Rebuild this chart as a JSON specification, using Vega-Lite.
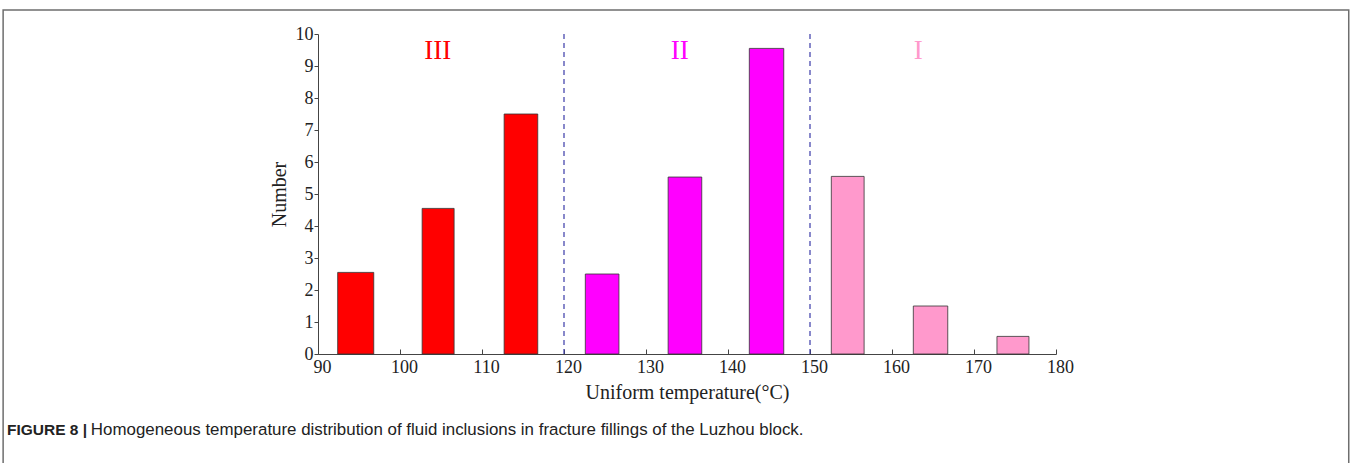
{
  "$schema": "https://vega.github.io/schema/vega-lite/v6.json",
  "width": 738,
  "height": 320,
  "autosize": {"type": "none"},
  "padding": {"left": 318, "top": 34, "right": 295, "bottom": 109},
  "background": "white",
  "config": {
    "view": {"stroke": null},
    "axis": {
      "grid": false,
      "domainColor": "#444444",
      "tickColor": "#444444",
      "labelOverlap": false,
      "labelFont": "Liberation Serif",
      "labelFontSize": 18,
      "labelColor": "#222222",
      "labelFlush": false,
      "titleFont": "Liberation Serif",
      "titleFontSize": 20,
      "titleFontWeight": "normal",
      "titleColor": "#222222"
    },
    "axisX": {"tickSize": -5, "labelPadding": 9, "labelOffset": 4, "titlePadding": 6},
    "axisY": {"tickSize": 4, "labelPadding": 1, "titlePadding": 6}
  },
  "datasets": {
    "bars": [
      {"start": 92.4, "end": 96.8, "number": 2.55, "zone": "III"},
      {"start": 102.7, "end": 106.6, "number": 4.55, "zone": "III"},
      {"start": 112.7, "end": 116.8, "number": 7.5, "zone": "III"},
      {"start": 122.6, "end": 126.7, "number": 2.5, "zone": "II"},
      {"start": 132.7, "end": 136.8, "number": 5.53, "zone": "II"},
      {"start": 142.6, "end": 146.8, "number": 9.55, "zone": "II"},
      {"start": 152.6, "end": 156.6, "number": 5.55, "zone": "I"},
      {"start": 162.6, "end": 166.8, "number": 1.5, "zone": "I"},
      {"start": 172.8, "end": 176.7, "number": 0.55, "zone": "I"}
    ],
    "dividers": [{"t": 120}, {"t": 150}],
    "zones": [
      {"t": 104.6, "n": 9.47, "zone": "III"},
      {"t": 134.1, "n": 9.47, "zone": "II"},
      {"t": 163.2, "n": 9.47, "zone": "I"}
    ],
    "frame": [{"x1": 51.6, "x2": 215.7, "y1": -4, "y2": 10.75}],
    "captionBold": [{"x": 52.07, "y": -2.375, "label": "FIGURE 8 |"}],
    "captionText": [{"x": 62.3, "y": -2.375, "label": "Homogeneous temperature distribution of fluid inclusions in fracture fillings of the Luzhou block."}]
  },
  "layer": [
    {
      "data": {"name": "bars"},
      "mark": {"type": "rect", "stroke": "#333333", "strokeWidth": 0.8},
      "encoding": {
        "x": {
          "field": "start", "type": "quantitative",
          "scale": {"domain": [90, 180], "nice": false, "zero": false},
          "axis": {
            "title": "Uniform temperature(°C)",
            "values": [90, 100, 110, 120, 130, 140, 150, 160, 170, 180],
            "tickCount": 20,
            "format": "d",
            "labelOverlap": false
          }
        },
        "x2": {"field": "end"},
        "y": {
          "field": "number", "type": "quantitative",
          "scale": {"domain": [0, 10], "nice": false},
          "axis": {
            "title": "Number",
            "values": [0, 1, 2, 3, 4, 5, 6, 7, 8, 9, 10],
            "tickCount": 20,
            "format": "d",
            "labelOverlap": false
          }
        },
        "y2": {"datum": 0},
        "fill": {
          "field": "zone", "type": "nominal",
          "scale": {"domain": ["III", "II", "I"], "range": ["#ff0000", "#ff00ff", "#ff99cc"]},
          "legend": null
        }
      }
    },
    {
      "data": {"name": "frame"},
      "mark": {"type": "rect", "fill": null, "stroke": "#6e6e6e", "strokeWidth": 1.5},
      "encoding": {
        "x": {"field": "x1", "type": "quantitative"},
        "x2": {"field": "x2"},
        "y": {"field": "y1", "type": "quantitative"},
        "y2": {"field": "y2"}
      }
    },
    {
      "data": {"name": "dividers"},
      "mark": {"type": "rule", "color": "#3a3aa8", "strokeWidth": 1.2, "strokeDash": [5, 4]},
      "encoding": {
        "x": {"field": "t", "type": "quantitative"},
        "y": {"datum": 0},
        "y2": {"datum": 10}
      }
    },
    {
      "data": {"name": "zones"},
      "mark": {"type": "text", "font": "Liberation Serif", "fontSize": 27, "baseline": "middle", "align": "center"},
      "encoding": {
        "x": {"field": "t", "type": "quantitative"},
        "y": {"field": "n", "type": "quantitative"},
        "text": {"field": "zone"},
        "color": {
          "field": "zone", "type": "nominal",
          "scale": {"domain": ["III", "II", "I"], "range": ["#ff0000", "#ff00ff", "#ff99cc"]},
          "legend": null
        }
      }
    },
    {
      "data": {"name": "captionBold"},
      "mark": {"type": "text", "font": "Liberation Sans", "fontSize": 15.5, "fontWeight": "bold", "baseline": "middle", "align": "left", "color": "#222222"},
      "encoding": {
        "x": {"field": "x", "type": "quantitative"},
        "y": {"field": "y", "type": "quantitative"},
        "text": {"field": "label"}
      }
    },
    {
      "data": {"name": "captionText"},
      "mark": {"type": "text", "font": "Liberation Sans", "fontSize": 16.9, "baseline": "middle", "align": "left", "color": "#222222"},
      "encoding": {
        "x": {"field": "x", "type": "quantitative"},
        "y": {"field": "y", "type": "quantitative"},
        "text": {"field": "label"}
      }
    }
  ]
}
